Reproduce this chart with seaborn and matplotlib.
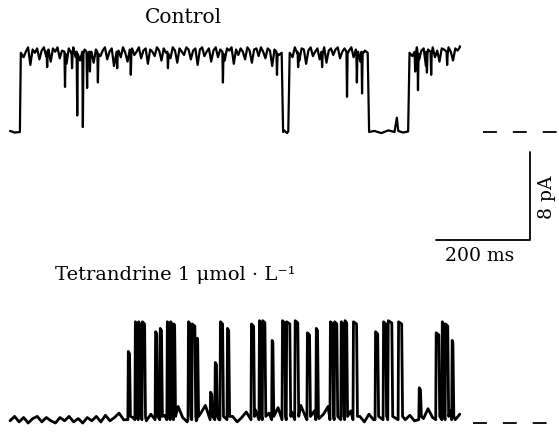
import numpy as np
import pandas as pd
import matplotlib.pyplot as plt
import seaborn as sns

# Single-channel recordings (time in ms, current in pA)
OPEN_CTRL = 7.2        # open level of control trace
TRACE_END = 957        # both traces stop here (ms)

# control: brief closures (time, current reached)
ctrl_spike_t = [79, 117, 132, 143, 155, 164, 170, 187, 228, 257, 336, 453, 568,
                613, 664, 717, 738, 749, 862, 868, 887, 896, 930]
ctrl_spike_i = [5.9, 4.1, 5.8, 1.5, 0.45, 4.0, 5.5, 4.5, 5.8, 5.2, 5.8, 4.5, 5.2,
                5.9, 5.9, 3.2, 4.5, 3.5, 5.5, 3.8, 5.4, 5.2, 6.1]
# control: long closures (fall, rise)
ctrl_close_start = [579, 762]
ctrl_close_end = [594, 849]
ctrl_closed_t = [0, 10, 21, 583, 589, 775, 790, 805, 818, 823, 826, 836]
ctrl_closed_i = [0.1, -0.05, 0.0, 0.15, -0.1, 0.1, -0.1, 0.15, 0.0, 1.3, 0.1, -0.05]
# open-channel flicker, evenly spaced along the trace
ctrl_noise = [0.3, -0.2, 0.5, -0.9, 0.2, 0.4, -0.4, 0.1, 0.5, -1.1,
              0.3, 0.0, 0.4, -0.6, 0.2, 0.5, -0.3, 0.3, -0.8, 0.4,
              0.1, 0.5, -0.5, 0.2, 0.3, -1.0, 0.4, 0.0, 0.5, -0.4,
              0.2, -0.7, 0.4, 0.3, -0.2, 0.5, 0.1, -0.9, 0.3, 0.4,
              -0.3, 0.2, 0.5, -0.6, 0.1, 0.4, -1.2, 0.3, 0.2, -0.4,
              0.5, 0.0, -0.8, 0.3, 0.4, -0.2, 0.1, 0.5, -0.5, 0.2,
              0.4, -1.0, 0.3, 0.1, -0.3, 0.5, 0.2, -0.7, 0.4, 0.0,
              0.3, -0.5, 0.5, 0.2, -0.9, 0.4, 0.1, -0.2, 0.5, 0.3,
              -0.6, 0.2, 0.4, -1.1, 0.3, 0.5, -0.3, 0.1, 0.4, -0.8,
              0.2, 0.5, -0.4, 0.3, 0.0, -0.7, 0.4, 0.2, 0.5, -1.0,
              0.3, -0.2, 0.4, 0.1, -0.6, 0.5, 0.2, -0.9, 0.3, 0.4,
              -0.3, 0.5, 0.1, -0.5, 0.4, 0.2, -1.2, 0.3, 0.5, -0.2,
              0.1, 0.4, -0.8, 0.3, 0.2, -0.4, 0.5, 0.0, -0.7, 0.4,
              0.3, -1.0, 0.2, 0.5, -0.3, 0.1, 0.4, -0.6, 0.3, 0.5,
              -0.9, 0.2, 0.4, -0.2, 0.3, 0.5, -0.5, 0.1, 0.4, -1.1,
              0.2, 0.5, -0.4, 0.3, 0.1, -0.8, 0.4, 0.2, -0.3, 0.5,
              0.0, -0.6, 0.3, 0.4, -1.0, 0.2, 0.5, -0.2, 0.3, -0.7,
              0.4, 0.1, -0.5, 0.5, 0.2, -0.9, 0.3, 0.4, -0.3, 0.1,
              0.5, -0.6, 0.2, 0.4, -1.2, 0.3, 0.0, 0.5, -0.4, 0.2,
              -0.8, 0.4, 0.3, -0.2, 0.5, 0.1, -0.7, 0.4, 0.2, 0.6]

# tetrandrine 1 umol/L: openings (start, end, level)
tet_open_start = [251, 266, 273, 281, 309, 319, 334, 341, 348, 379, 387, 398, 426,
                  436, 447, 462, 513, 530, 537, 557, 579, 588, 606, 632, 651, 681,
                  690, 704, 712, 730, 777, 794, 804, 826, 870, 906, 919, 926, 940]
tet_open_end = [255, 269, 277, 287, 313, 323, 338, 345, 351, 384, 394, 400, 430,
                440, 453, 466, 519, 534, 543, 560, 585, 596, 613, 638, 655, 687,
                696, 709, 717, 738, 783, 800, 813, 834, 874, 913, 923, 932, 943]
tet_open_i = [6.5, 9.2, 9.2, 9.2, 8.3, 8.6, 9.2, 9.2, 9.0, 9.2, 9.0, 7.7, 2.8,
              5.5, 9.2, 8.6, 9.0, 9.3, 9.3, 7.5, 9.3, 9.2, 9.3, 8.2, 8.6, 9.2,
              9.2, 9.2, 9.3, 9.2, 8.3, 9.2, 9.3, 9.2, 3.2, 8.2, 9.2, 9.0, 7.5]
tet_noise = [0.2, 0.6, 0.1, 0.5, 0.0, 0.4, 0.6, 0.1, 0.5, 0.2,
             0.0, 0.5, 0.2, 0.6, 0.1, 0.4, 0.0, 0.5, 0.2, 0.6,
             0.1, 0.7, 0.2, 0.5, 0.9, 0.3, 1.0, 0.5, 1.2, 0.4,
             0.2, 0.8, 1.1, 0.3, 0.7, 0.2, 1.0, 1.5, 0.5, 0.1,
             0.7, 0.2, 0.9, 1.6, 0.4, 1.1, 0.3, 0.8, 0.2, 0.6,
             0.1, 0.5, 1.0, 0.3, 1.2, 0.5, 0.2, 0.9, 0.4, 1.4,
             0.6, 0.2, 1.0, 0.3, 1.6, 0.6, 0.2, 1.1, 0.4, 0.8,
             1.5, 0.5, 0.9, 0.2, 0.7, 1.1, 0.3, 0.6, 0.1, 0.8,
             0.3, 1.0, 1.7, 0.6, 1.2, 0.4, 0.9, 0.3, 0.7, 0.2,
             1.0, 0.4, 1.3, 0.5, 0.9, 1.6, 0.6, 1.1, 0.3, 0.8]

TET_Y0 = -26.45   # vertical offset of the lower trace

sns.set_theme(style="white")
plt.rcParams["font.family"] = ["DejaVu Serif"]
plt.rcParams["text.color"] = "black"
plt.rcParams["lines.scale_dashes"] = False


def control_trace():
    noise_t = np.linspace(0, TRACE_END, len(ctrl_noise))
    pts = list(zip(ctrl_closed_t, ctrl_closed_i))
    pts.append((23, OPEN_CTRL))
    for t, n in zip(noise_t, ctrl_noise):
        if t < 25:
            continue
        if any(a - 3 <= t <= b + 3 for a, b in zip(ctrl_close_start, ctrl_close_end)):
            continue
        if any(abs(t - s) < 2 for s in ctrl_spike_t):
            continue
        pts.append((t, OPEN_CTRL + n))
    for t, d in zip(ctrl_spike_t, ctrl_spike_i):
        pts += [(t - 1.2, OPEN_CTRL + 0.1), (t, d), (t + 1.2, OPEN_CTRL - 0.1)]
    for a, b in zip(ctrl_close_start, ctrl_close_end):
        pts += [(a - 1, OPEN_CTRL), (a + 2, 0.0), (b - 2, 0.05), (b + 1, OPEN_CTRL)]
    pts.append((TRACE_END, OPEN_CTRL + 0.5))
    pts.sort()
    return pd.DataFrame(pts, columns=["t", "i"])


def tet_trace():
    noise_t = np.linspace(0, TRACE_END, len(tet_noise))
    pts = []
    for t, n in zip(noise_t, tet_noise):
        if any(a - 1.5 <= t <= b + 2 for a, b in zip(tet_open_start, tet_open_end)):
            continue
        pts.append((t, n))
    for a, b, lv in zip(tet_open_start, tet_open_end, tet_open_i):
        pts += [(a - 0.3, 0.3), (a + 0.7, lv), (b - 0.7, lv - 0.2), (b + 1.2, 0.6)]
    pts.sort()
    df = pd.DataFrame(pts, columns=["t", "i"])
    df["i"] += TET_Y0
    return df


fig = plt.figure(figsize=(5.59, 4.34), dpi=100)
ax = fig.add_axes([0, 0, 1, 1])

sns.lineplot(data=control_trace(), x="t", y="i", estimator=None, sort=False,
             color="black", lw=1.6, ax=ax)
sns.lineplot(data=tet_trace(), x="t", y="i", estimator=None, sort=False,
             color="black", lw=2.0, ax=ax)

# closed-level dashes
ax.plot([1006, 1168], [0, 0], color="black", lw=1.3, dashes=(10, 11.5))
ax.plot([985, 1145], [TET_Y0, TET_Y0], color="black", lw=1.3, dashes=(10, 11.5))

# scale bar 200 ms / 8 pA
ax.plot([906, 1106, 1106], [-9.82, -9.82, -1.82], color="black", lw=1.3)
ax.text(1000, -11.3, "200 ms", ha="center", va="center", fontsize=13.5)
ax.text(1142, -5.9, "8 pA", ha="center", va="center", rotation=90, fontsize=13.5)

ax.text(368, 10.4, "Control", ha="center", va="center", fontsize=14.5)
ax.text(96, -13.45, "Tetrandrine 1 μmol · L⁻¹", ha="left", va="baseline", fontsize=14)

ax.set_xlim(-21.3, 1168)
ax.set_ylim(-27.45, 12.0)
ax.set_axis_off()

fig.savefig("out.png", dpi=100)
